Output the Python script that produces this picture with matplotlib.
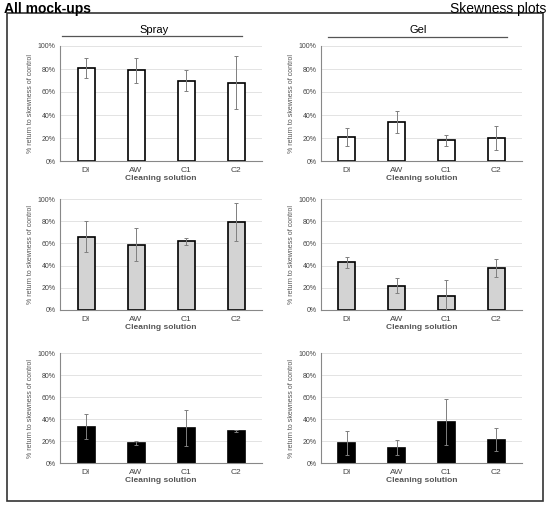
import matplotlib
matplotlib.use("Agg")
import matplotlib.pyplot as plt
from matplotlib.patches import Rectangle
from matplotlib.lines import Line2D
from matplotlib.ticker import FuncFormatter
import numpy as np

plt.rcParams['font.family'] = ['Liberation Sans', 'DejaVu Sans']

categories = ["DI", "AW", "C1", "C2"]

spray_white = [81, 79, 70, 68]
spray_white_err = [9, 11, 9, 23]
gel_white = [21, 34, 18, 20]
gel_white_err = [8, 9.5, 5, 10.5]

spray_gray = [66, 59, 62, 79]
spray_gray_err = [14, 14.5, 3, 17]
gel_gray = [43, 22, 13, 38]
gel_gray_err = [5, 6.5, 14, 8]

spray_black = [33, 18, 32, 29]
spray_black_err = [11.5, 2, 16.5, 1]
gel_black = [18, 14, 37, 21]
gel_black_err = [11, 7, 21, 10.5]

W, H = 550, 507
fig = plt.figure(figsize=(5.5, 5.07), dpi=100)

def fx(px):
    return px / W

def fy(py):
    return 1 - py / H

rows = [(46, 161), (199, 310), (353, 463)]
cols = [(60, 262), (321, 522)]

panels = [
    [(spray_white, spray_white_err, "white"), (gel_white, gel_white_err, "white")],
    [(spray_gray, spray_gray_err, "#d3d3d3"), (gel_gray, gel_gray_err, "#d3d3d3")],
    [(spray_black, spray_black_err, "black"), (gel_black, gel_black_err, "black")],
]

x = np.arange(len(categories))
for r, (top, bot) in enumerate(rows):
    for c, (left, right) in enumerate(cols):
        vals, errs, color = panels[r][c]
        ax = fig.add_axes([fx(left), fy(bot), fx(right) - fx(left), (bot - top) / H])
        ax.bar(x, vals, width=0.34, color=color, edgecolor="black", linewidth=1.2, zorder=2)
        ax.errorbar(x, vals, yerr=errs, fmt="none", ecolor="#7f7f7f", elinewidth=0.7,
                    capsize=1.5, capthick=0.7, zorder=3)
        ax.set_ylim(0, 100)
        ax.set_xlim(-0.52, 3.52)
        ax.set_yticks([0, 20, 40, 60, 80, 100])
        ax.yaxis.set_major_formatter(FuncFormatter(lambda v, p: f"{int(v)}%"))
        ax.set_xticks(x)
        ax.set_xticklabels(categories)
        ax.grid(axis="y", color="#e3e3e3", linewidth=0.7, zorder=0)
        ax.set_axisbelow(True)
        for s in ["top", "right"]:
            ax.spines[s].set_visible(False)
        ax.spines["left"].set_color("#888888")
        ax.spines["bottom"].set_color("#888888")
        ax.spines["left"].set_linewidth(0.8)
        ax.spines["bottom"].set_linewidth(0.8)
        ax.tick_params(axis="y", labelsize=5, colors="#444444", length=0, pad=3)
        ax.tick_params(axis="x", labelsize=6, colors="#444444", length=0, pad=4)
        ax.set_ylabel("% return to skewness of control", fontsize=5, color="#555555", labelpad=3)
        ax.set_xlabel("Cleaning solution", fontsize=6, color="#555555", fontweight="bold", labelpad=1)

# outer box
fig.add_artist(Rectangle((fx(7), fy(501)), fx(543) - fx(7), (501 - 13) / H,
                         fill=False, edgecolor="#333333", linewidth=1.2,
                         transform=fig.transFigure))

fig.text(fx(4), fy(13), "All mock-ups", fontsize=10, fontweight="bold", ha="left", va="baseline")
fig.text(fx(546), fy(13), "Skewness plots", fontsize=10, ha="right", va="baseline")

fig.text(fx(154), fy(30), "Spray", fontsize=8, ha="center", va="center")
fig.add_artist(Line2D([fx(62), fx(242)], [fy(36), fy(36)], color="#555555", linewidth=0.9,
                      transform=fig.transFigure))
fig.text(fx(418), fy(30), "Gel", fontsize=8, ha="center", va="center")
fig.add_artist(Line2D([fx(328), fx(507)], [fy(37), fy(37)], color="#555555", linewidth=0.9,
                      transform=fig.transFigure))

fig.savefig("out.png", dpi=100, facecolor="white")
